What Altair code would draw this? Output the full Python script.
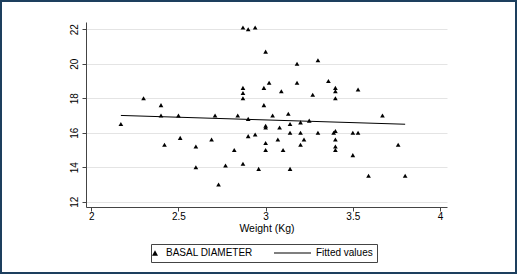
import altair as alt
import pandas as pd

# Data
weight = [2.17, 2.30, 2.40, 2.40, 2.42, 2.50, 2.51, 2.60, 2.60, 2.69,
          2.71, 2.73, 2.77, 2.82, 2.84, 2.87, 2.87, 2.87, 2.87, 2.87,
          2.90, 2.94, 2.90, 2.90, 2.94, 2.96, 3.00, 3.18, 3.30, 2.99,
          3.02, 3.09, 3.18, 3.36, 3.40, 3.40, 3.40, 3.27, 3.53, 2.99,
          3.04, 3.13, 3.00, 3.00, 3.08, 3.14, 3.20, 3.25, 3.67, 3.14,
          3.20, 3.30, 3.39, 3.40, 3.50, 3.53, 3.00, 3.07, 3.22, 3.40,
          3.20, 3.40, 3.40, 3.00, 3.10, 3.76, 3.50, 3.14, 3.59, 3.80]
basal = [16.5, 18.0, 17.6, 17.0, 15.3, 17.0, 15.7, 15.2, 14.0, 15.6,
         17.0, 13.0, 14.1, 15.0, 17.0, 18.6, 18.3, 18.0, 14.2, 22.1,
         22.0, 22.1, 16.8, 15.8, 15.9, 13.9, 20.7, 20.0, 20.2, 18.6,
         18.9, 18.4, 18.9, 19.0, 18.6, 18.4, 18.0, 18.2, 18.5, 17.6,
         17.0, 17.1, 16.4, 16.3, 16.3, 16.5, 16.6, 16.7, 17.0, 16.0,
         16.0, 16.0, 16.0, 16.1, 16.0, 16.0, 15.4, 15.6, 15.6, 15.6,
         15.3, 15.2, 15.0, 15.0, 15.0, 15.3, 14.7, 13.9, 13.5, 13.5]
fit_x = [2.17, 3.80]
fit_y = [17.0, 16.49]
series_names = ["BASAL DIAMETER", "Fitted values"]
x_ticks = [2, 2.5, 3, 3.5, 4]
y_ticks = [12, 14, 16, 18, 20, 22]

pts = pd.DataFrame({"w": weight, "d": basal})
fit = pd.DataFrame({"w": fit_x, "d": fit_y})
leg = pd.DataFrame({"series": series_names})

W, H = 361, 185
FONT = "Liberation Sans"

xs = alt.Scale(domain=[1.97, 4.04], nice=False, zero=False)
ys = alt.Scale(domain=[11.69, 22.42], nice=False, zero=False)

xax = alt.Axis(values=x_ticks, format="~g", title="Weight (Kg)", grid=False,
               labelPadding=0, titleBaseline="middle", titleY=21,
               titleFontWeight="normal", titleFontSize=10.5, labelFontSize=10)
yax = alt.Axis(values=y_ticks, title=None, grid=True, gridColor="#e4e4e4",
               labelAngle=270, labelAlign="center", labelBaseline="bottom",
               labelPadding=3, labelFontSize=10, labelOverlap=False,
               labelBound=False)

points = alt.Chart(pts).mark_point(
    shape="triangle-up", filled=True, color="black", size=22, opacity=1
).encode(
    x=alt.X("w:Q", scale=xs, axis=xax),
    y=alt.Y("d:Q", scale=ys, axis=yax),
)

line = alt.Chart(fit).mark_line(color="black", strokeWidth=1).encode(
    x=alt.X("w:Q", scale=xs, axis=xax),
    y=alt.Y("d:Q", scale=ys, axis=yax),
)

tri_path = "M-1.6,0.55L-0.4,0.55L-1,-0.55Z"
line_path = "M-7.2,-0.1L0.2,-0.1L0.2,0.1L-7.2,0.1Z"

legend_layer = alt.Chart(leg).transform_filter("false").mark_point(
    filled=True, color="black", opacity=1, size=100
).encode(
    shape=alt.Shape(
        "series:N",
        scale=alt.Scale(domain=series_names, range=[tri_path, line_path]),
        legend=alt.Legend(
            title=None, orient="none", legendX=65, legendY=222,
            direction="horizontal", columns=2, columnPadding=21,
            strokeColor="#444", padding=4,
            symbolSize=100, symbolStrokeWidth=0,
            symbolFillColor="black", symbolOpacity=1,
            labelFontSize=10, labelFont=FONT, labelColor="black",
            labelOffset=1,
        ),
    )
)

frame = alt.Chart(pd.DataFrame({"a": [0]})).mark_rect(
    fill=None, stroke="#1d3f5e", strokeWidth=2
).encode(
    x=alt.value(-85), x2=alt.value(W + 69),
    y=alt.value(-21), y2=alt.value(H + 66),
)

chart = alt.layer(points, line, legend_layer, frame).properties(
    width=W, height=H,
    autosize=alt.AutoSizeParams(type="none"),
    padding={"left": 86, "top": 22, "right": 70, "bottom": 67},
    background="white",
).configure_view(stroke=None).configure_axis(
    domainColor="#444", tickColor="#444", tickSize=4,
    labelColor="black", titleColor="black",
    labelFont=FONT, titleFont=FONT,
).configure_axisY(labelOverlap=False)

chart.save("out.html", embed_options={"renderer": "svg", "actions": False})
